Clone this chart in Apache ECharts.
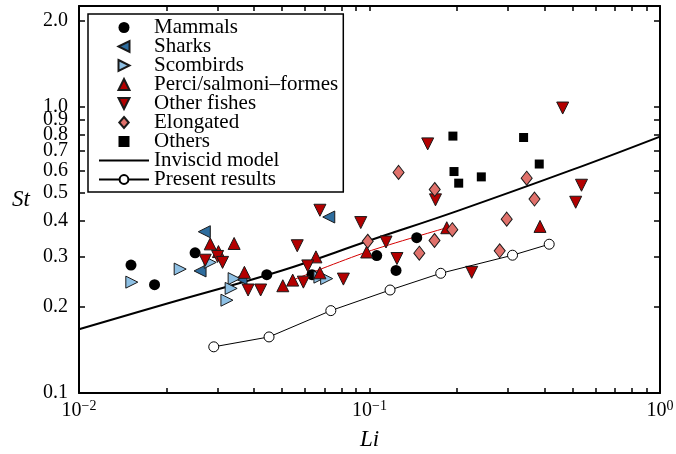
<!DOCTYPE html>
<html>
<head>
<meta charset="utf-8">
<script src="https://cdn.jsdelivr.net/npm/echarts@6/dist/echarts.min.js"></script>
<style>
  html, body { margin: 0; padding: 0; background: #fff; }
  #chart { width: 676px; height: 454px; }
</style>
</head>
<body>
<div id="chart"></div>
<script>
// Strouhal number St against Lighthill number Li, as [Li, St] pairs
const mammals = [
  [0.0151, 0.280], [0.0182, 0.239], [0.0251, 0.309], [0.0443, 0.259],
  [0.0634, 0.259], [0.1059, 0.302], [0.1234, 0.268], [0.1454, 0.349]
];
const sharks = [
  [0.0270, 0.366], [0.0261, 0.267], [0.0361, 0.251], [0.0724, 0.412]
];
const scombirds = [
  [0.0152, 0.244], [0.0223, 0.271], [0.0283, 0.286], [0.0342, 0.251],
  [0.0334, 0.232], [0.0323, 0.211], [0.0675, 0.254], [0.0712, 0.251]
];
const perciSalmoni = [
  [0.0283, 0.332], [0.0342, 0.333], [0.0302, 0.312], [0.0371, 0.264],
  [0.0503, 0.237], [0.0544, 0.248], [0.0654, 0.299], [0.0675, 0.263],
  [0.0978, 0.311], [0.1845, 0.378], [0.3863, 0.382]
];
const otherFishes = [
  [0.0272, 0.291], [0.0300, 0.300], [0.0312, 0.286], [0.0382, 0.229],
  [0.0422, 0.229], [0.0564, 0.327], [0.0613, 0.278], [0.0592, 0.244],
  [0.0675, 0.435], [0.0813, 0.250], [0.0933, 0.394], [0.1140, 0.337],
  [0.1243, 0.295], [0.1586, 0.742], [0.1687, 0.473], [0.2248, 0.264],
  [0.4624, 0.990], [0.5367, 0.532], [0.5126, 0.464]
];
const elongated = [
  [0.0986, 0.339], [0.1259, 0.590], [0.1677, 0.514], [0.1484, 0.308],
  [0.1674, 0.341], [0.1928, 0.372], [0.2807, 0.314], [0.2967, 0.405],
  [0.3476, 0.563], [0.3698, 0.476]
];
const others = [
  [0.1937, 0.790], [0.3392, 0.781], [0.1954, 0.594], [0.2028, 0.541],
  [0.2426, 0.569], [0.3840, 0.631]
];
// inviscid model curve, sampled along Li
const inviscidModel = [
  [0.01, 0.167], [0.02, 0.205], [0.05, 0.268], [0.1, 0.341],
  [0.2, 0.432], [0.5, 0.603], [1.0, 0.787]
];
const presentResults = [
  [0.0291, 0.145], [0.0451, 0.157], [0.0736, 0.194], [0.1177, 0.229],
  [0.1759, 0.262], [0.3107, 0.303], [0.4155, 0.331]
];
// thin red link between three perci/salmoniformes points
const perciLink = [[0.0544, 0.248], [0.0978, 0.311], [0.1845, 0.378]];

// axis ticks and labels
const xLabelValues = [0.01, 0.1, 1];
const xTickValues = [0.01, 0.02, 0.03, 0.04, 0.05, 0.06, 0.07, 0.08, 0.09,
                     0.1, 0.2, 0.3, 0.4, 0.5, 0.6, 0.7, 0.8, 0.9, 1];
const yLabelValues = [0.1, 0.2, 0.3, 0.4, 0.5, 0.6, 0.7, 0.8, 0.9, 1.0, 2.0];
const yTickValues = yLabelValues;

const FONT = 'Liberation Serif';
const EDGE = '#1a1a1a';

// marker outlines as paths so the legend keeps their proportions
const SYM = {
  up: 'path://M5,0L10,10L0,10Z',
  down: 'path://M0,0L10,0L5,10Z',
  left: 'path://M0,5L10,0L10,10Z',
  right: 'path://M0,0L10,5L0,10Z',
  diamond: 'path://M6,0L12,7L6,14L0,7Z',
  square: 'path://M0,0L10,0L10,10L0,10Z'
};

function scatterSeries(name, data, symbol, size, color, border) {
  return {
    name: name,
    type: 'scatter',
    data: data,
    symbol: symbol,
    symbolSize: size,
    itemStyle: {
      color: color,
      borderColor: border ? EDGE : color,
      borderWidth: border ? 1 : 0,
      opacity: 1
    },
    z: 3
  };
}

function xAxisBase(pos, showLabel) {
  return {
    type: 'log',
    logBase: 10,
    min: 0.01,
    max: 1,
    position: pos,
    axisLine: { show: true, onZero: false, lineStyle: { color: '#000', width: 2 } },
    axisTick: { show: true, inside: true, length: 5, customValues: xTickValues,
                lineStyle: { color: '#000', width: 1.5 } },
    minorTick: { show: false },
    splitLine: { show: false },
    axisLabel: {
      show: showLabel,
      customValues: xLabelValues,
      margin: 6,
      color: '#000',
      fontFamily: FONT,
      fontSize: 20,
      formatter: function (v) {
        const p = Math.round(Math.log10(v));
        return '{b|10}{s|' + (p < 0 ? '\u2212' + (-p) : p) + '}';
      },
      rich: {
        b: { fontFamily: FONT, fontSize: 20, color: '#000' },
        s: { fontFamily: FONT, fontSize: 14, color: '#000', padding: [0, 0, 10, 0] }
      }
    }
  };
}

function yAxisBase(pos, showLabel) {
  return {
    type: 'log',
    logBase: 10,
    min: 0.1,
    max: 2.25,
    position: pos,
    axisLine: { show: true, onZero: false, lineStyle: { color: '#000', width: 2 } },
    axisTick: { show: true, inside: true, length: 6, customValues: yTickValues,
                lineStyle: { color: '#000', width: 1.5 } },
    minorTick: { show: false },
    splitLine: { show: false },
    axisLabel: {
      show: showLabel,
      customValues: yLabelValues,
      margin: 11,
      color: '#000',
      fontFamily: FONT,
      fontSize: 20,
      formatter: function (v) { return v.toFixed(1); }
    }
  };
}

const xBottom = xAxisBase('bottom', true);
xBottom.name = 'Li';
xBottom.nameLocation = 'middle';
xBottom.nameGap = 35;
xBottom.nameTextStyle = { fontFamily: FONT, fontStyle: 'italic', fontSize: 23, color: '#000' };

const yLeft = yAxisBase('left', true);
yLeft.name = 'St';
yLeft.nameLocation = 'middle';
yLeft.nameRotate = 0;
yLeft.nameGap = 49;
yLeft.nameTextStyle = { fontFamily: FONT, fontStyle: 'italic', fontSize: 23, color: '#000',
                        padding: [0, 0, 4, 0] };

const option = {
  animation: false,
  backgroundColor: '#fff',
  grid: { left: 79, right: 16, top: 6, bottom: 61, outerBoundsMode: 'none' },
  xAxis: [xBottom, xAxisBase('top', false)],
  yAxis: [yLeft, yAxisBase('right', false)],
  legend: {
    orient: 'vertical',
    left: 88,
    top: 14,
    padding: [3, 5, 2, 10],
    itemWidth: 50,
    itemHeight: 11,
    itemGap: -2,
    symbolKeepAspect: true,
    borderColor: '#000',
    borderWidth: 1.5,
    borderRadius: 0,
    backgroundColor: '#fff',
    textStyle: { fontFamily: FONT, fontSize: 21, color: '#000' },
    data: [
      'Mammals', 'Sharks', 'Scombirds', 'Perci/salmoni\u2013formes', 'Other fishes',
      { name: 'Elongated', icon: SYM.diamond },
      'Others',
      { name: 'Inviscid model', itemStyle: { color: 'rgba(0,0,0,0)', borderColor: 'rgba(0,0,0,0)' } },
      'Present results'
    ]
  },
  series: [
    {
      name: 'Inviscid model',
      type: 'line',
      data: inviscidModel,
      smooth: 0.4,
      symbol: 'none',
      lineStyle: { color: '#000', width: 2 },
      itemStyle: { color: '#000' },
      z: 2
    },
    {
      name: 'perci link',
      type: 'line',
      data: perciLink,
      smooth: 0.3,
      symbol: 'none',
      lineStyle: { color: '#d40000', width: 1 },
      z: 2
    },
    scatterSeries('Mammals', mammals, 'circle', 11, '#000', false),
    scatterSeries('Sharks', sharks, SYM.left, 12, '#2e6d9e', true),
    scatterSeries('Scombirds', scombirds, SYM.right, 12, '#8ec0e4', true),
    scatterSeries('Perci/salmoni\u2013formes', perciSalmoni, SYM.up, 12, '#b30000', true),
    scatterSeries('Other fishes', otherFishes, SYM.down, 12, '#b30000', true),
    scatterSeries('Elongated', elongated, 'diamond', [11, 14], '#e0716b', true),
    scatterSeries('Others', others, SYM.square, 9, '#000', false),
    {
      name: 'Present results',
      type: 'line',
      data: presentResults,
      symbol: 'circle',
      symbolSize: 10,
      lineStyle: { color: '#000', width: 1 },
      itemStyle: { color: '#fff', borderColor: '#000', borderWidth: 1 },
      z: 4
    }
  ]
};

const chart = echarts.init(document.getElementById('chart'), null, { renderer: 'canvas' });
chart.setOption(option);
</script>
</body>
</html>
